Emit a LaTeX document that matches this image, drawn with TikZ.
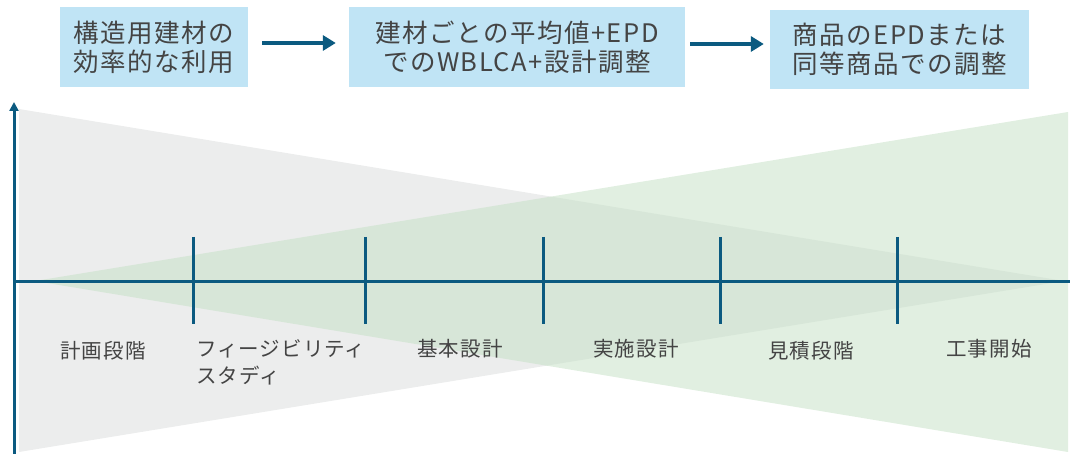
\documentclass[tikz,border=0pt]{standalone}
\usepackage{fontspec}
\newfontfamily\jp{Noto Sans CJK JP}[LetterSpace=6]
\newfontfamily\jpl{Noto Sans CJK JP}[LetterSpace=5]
\usetikzlibrary{arrows.meta}
\definecolor{axisblue}{RGB}{11,90,128}
\definecolor{boxblue}{RGB}{192,228,245}
\definecolor{bggray}{RGB}{236,237,237}
\definecolor{bggreen}{RGB}{198,225,198}
\definecolor{txt}{RGB}{68,68,68}
\tikzset{
  topbox/.style={fill=boxblue, inner sep=0pt, align=center, text=txt,
    font=\jp\fontsize{25.5}{29}\selectfont},
  flowarrow/.style={draw=axisblue, line width=4pt, -{Triangle[length=13pt,width=15pt]}},
  axisline/.style={draw=axisblue, line width=3pt},
  ticks/.style={draw=axisblue, line width=3pt},
  phase/.style={text=txt, inner sep=0pt, font=\jpl\fontsize{20.5}{27}\selectfont}
}
\begin{document}
\begin{tikzpicture}[x=1pt,y=-1pt]
\useasboundingbox (0,0) rectangle (1070,454);
% background wedges
\fill[bggray] (19,109) -- (1064,281) -- (19,452) -- cycle;
\fill[bggreen, opacity=0.53] (35,281) -- (1068,112) -- (1068,452) -- cycle;
% top boxes
\node[topbox, minimum width=188pt, minimum height=80pt] (b1) at (154,47) {構造用建材の\\効率的な利用};
\node[topbox, minimum width=336pt, minimum height=80pt] (b2) at (517,47) {建材ごとの平均値+EPD\\でのWBLCA+設計調整};
\node[topbox, minimum width=259pt, minimum height=79pt] (b3) at (899.5,49.5) {商品のEPDまたは\\同等商品での調整};
\coordinate (ay1) at (0,43);
\coordinate (ay2) at (0,44);
\draw[flowarrow, shorten <=14pt, shorten >=13pt] (b1.east |- ay1) -- (b2.west |- ay1);
\draw[flowarrow, shorten <=5pt, shorten >=6pt] (b2.east |- ay2) -- (b3.west |- ay2);
% axes
\coordinate (o) at (14,281);
\coordinate (ybot) at (14,454);
\coordinate (ytop) at (14,102);
\coordinate (xend) at (1070,281);
\draw[axisline, -{Triangle[length=9pt,width=9pt]}] (ybot) -- (ytop);
\draw[axisline] (o) -- (xend);
% ticks
\foreach \x [count=\i] in {193,365,543,720,897} {
  \coordinate (t\i a) at (\x,237);
  \coordinate (t\i b) at (\x,324);
  \draw[ticks] (t\i a) -- (t\i b);
}
% phase labels
\node[phase] (l1) at (103,351) {計画段階};
\node[phase, anchor=west, align=left] (l2) at (196,362) {フィージビリティ\\スタディ};
\node[phase] (l3) at (460,349) {基本設計};
\node[phase] (l4) at (636,349) {実施設計};
\node[phase] (l5) at (811,351) {見積段階};
\node[phase] (l6) at (989,349) {工事開始};
\end{tikzpicture}
\end{document}
